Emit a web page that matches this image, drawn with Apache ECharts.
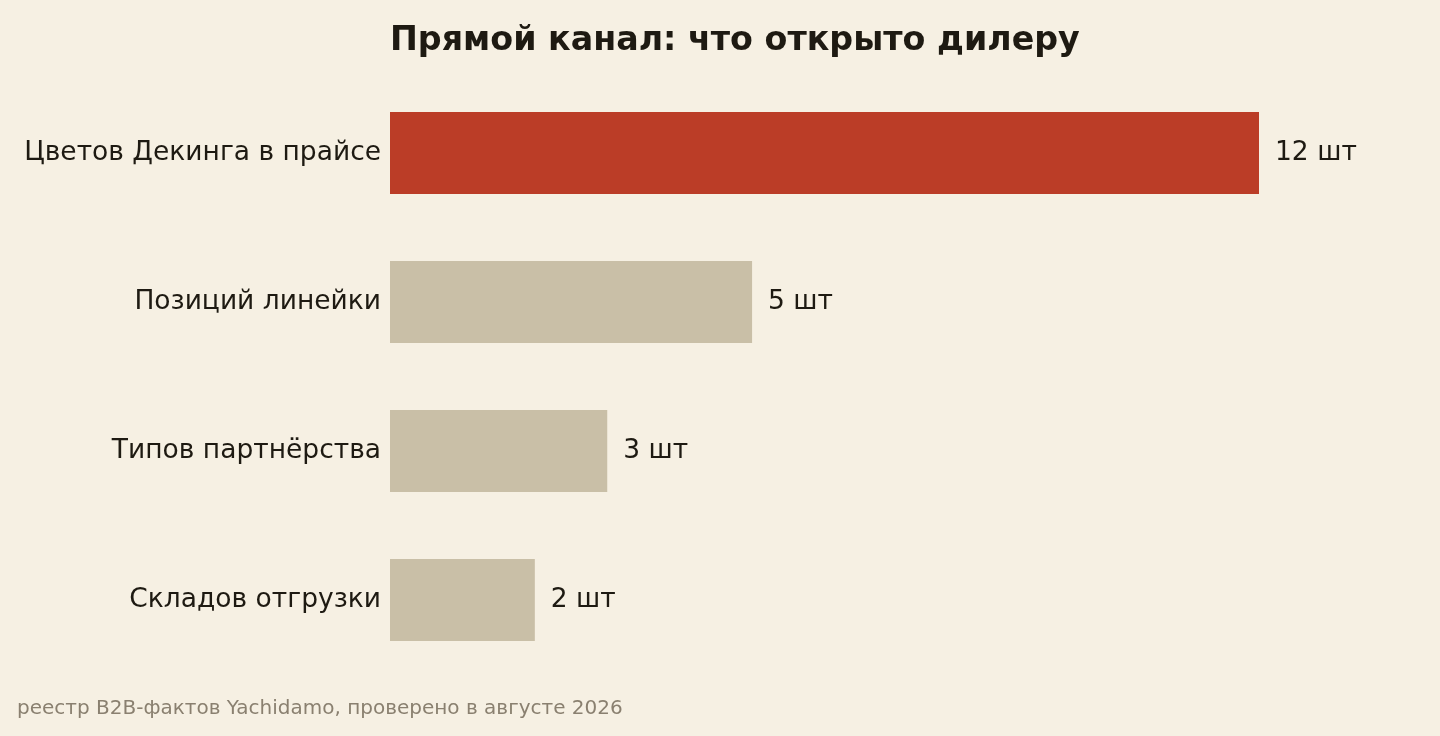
<!DOCTYPE html>
<html>
<head>
<meta charset="utf-8">
<style>
  html, body { margin: 0; padding: 0; background: #f6f0e3; }
  #chart { width: 1440px; height: 736px; }
</style>
<script src="https://cdn.jsdelivr.net/npm/echarts@6/dist/echarts.min.js"></script>
</head>
<body>
<div id="chart"></div>
<script>
// данные
var categories = ['Цветов Декинга в прайсе', 'Позиций линейки', 'Типов партнёрства', 'Складов отгрузки'];
var values = [12, 5, 3, 2];
var unit = 'шт';
var highlight = 0; // индекс выделенной строки

var chart = echarts.init(document.getElementById('chart'));
var font = 'DejaVu Sans';

var option = {
    backgroundColor: '#f6f0e3',
    textStyle: { fontFamily: font },
    title: [{
        text: 'Прямой канал: что открыто дилеру',
        left: 385,
        top: 20,
        textStyle: { fontFamily: font, fontSize: 33.3, fontWeight: 'bold', color: '#1e1a12' }
    }, {
        text: 'реестр B2B-фактов Yachidamo, проверено в августе 2026',
        left: 12,
        top: 694,
        textStyle: { fontFamily: font, fontSize: 20, fontWeight: 'normal', color: '#8a8070' }
    }],
    grid: { left: 390, right: 181, top: 78.5, height: 596, containLabel: false },
    xAxis: {
        type: 'value',
        min: 0,
        max: 12,
        show: false
    },
    yAxis: {
        type: 'category',
        data: categories,
        inverse: true,
        axisLine: { show: false },
        axisTick: { show: false },
        splitLine: { show: false },
        axisLabel: { fontFamily: font, fontSize: 26.5, color: '#1e1a12', margin: 9, padding: [3, 0, 0, 0] }
    },
    series: [{
        type: 'bar',
        barWidth: 82,
        silent: true,
        data: values.map(function (v, i) {
            return { value: v, itemStyle: { color: i === highlight ? '#bb3d27' : '#c9bfa7' } };
        }),
        label: {
            show: true,
            position: 'right',
            distance: 16,
            fontFamily: font,
            fontSize: 26.5,
            color: '#1e1a12',
            formatter: function (p) { return p.value + ' ' + unit; }
        }
    }]
};

chart.setOption(option);
window.addEventListener('resize', function () { chart.resize(); });
</script>
</body>
</html>
